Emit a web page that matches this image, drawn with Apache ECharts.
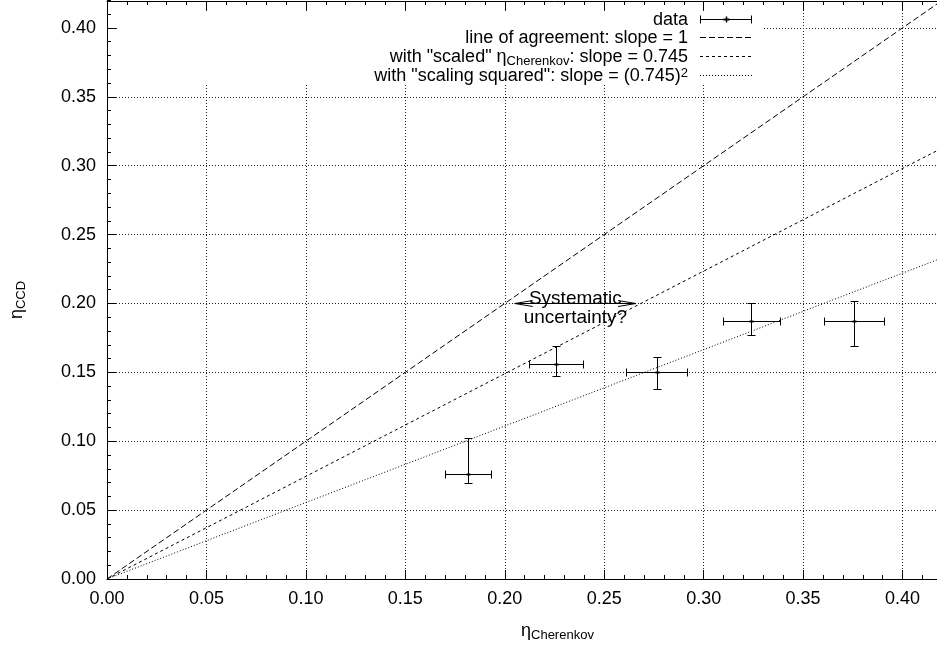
<!DOCTYPE html>
<html>
<head>
<meta charset="utf-8">
<script src="https://cdn.jsdelivr.net/npm/echarts@6/dist/echarts.min.js"></script>
<style>
  html, body { margin: 0; padding: 0; background: #fff; overflow: hidden; width: 937px; height: 645px; }
  /* the plot frame runs past the right and top edges of the page */
  #chart { position: absolute; left: 0; top: -41px; width: 1002px; height: 686px; }
</style>
</head>
<body>
<div id="chart"></div>
<script>
// Measured efficiencies with their error ranges
const etaCherenkov     = [0.1817, 0.2257, 0.2765, 0.3240, 0.3756];
const etaCherenkovLow  = [0.1700, 0.2121, 0.2612, 0.3096, 0.3605];
const etaCherenkovHigh = [0.1933, 0.2393, 0.2916, 0.3386, 0.3905];
const etaCCD     = [0.0759, 0.1560, 0.1499, 0.1873, 0.1870];
const etaCCDLow  = [0.0699, 0.1470, 0.1380, 0.1773, 0.1690];
const etaCCDHigh = [0.1026, 0.1693, 0.1613, 0.2001, 0.2020];

// Reference lines through the origin
const scaling = 0.745;
const lineSlopes = [1, scaling, scaling * scaling];
const lineDashes = [[6, 3], [3, 3], [1, 2]];
const lineEnd = 0.45;

// Double arrow marking the systematic gap: [x from, x to, y]
const arrowSpan = [0.205, 0.266, 0.20];

const FONT = '"Liberation Sans", Arial, Helvetica, sans-serif';
const FS = 18;
const DY = 41; // page offset of the chart container

const chart = echarts.init(document.getElementById('chart'), null, { renderer: 'canvas' });

const crisp = v => Math.round(v) + 0.5;
const stroke = { stroke: '#000', lineWidth: 1 };

function seg(x1, y1, x2, y2, extra) {
  return { type: 'line', shape: { x1, y1, x2, y2 }, style: Object.assign({}, stroke, extra || {}) };
}

function renderErrorBar(params, api) {
  const c = api.coord([api.value(0), api.value(1)]);
  const xl = crisp(api.coord([api.value(2), api.value(1)])[0]);
  const xh = crisp(api.coord([api.value(3), api.value(1)])[0]);
  const yl = crisp(api.coord([api.value(0), api.value(4)])[1]);
  const yh = crisp(api.coord([api.value(0), api.value(5)])[1]);
  const cx = crisp(c[0]), cy = crisp(c[1]);
  const cap = 4;
  return {
    type: 'group',
    children: [
      seg(xl, cy, xh, cy),
      seg(xl, cy - cap, xl, cy + cap),
      seg(xh, cy - cap, xh, cy + cap),
      seg(cx, yl, cx, yh),
      seg(cx - cap, yl, cx + cap, yl),
      seg(cx - cap, yh, cx + cap, yh),
      seg(cx - 2, cy, cx + 2, cy, { lineWidth: 2 })
    ]
  };
}

function renderArrow(params, api) {
  const a = api.coord([api.value(0), api.value(2)]);
  const b = api.coord([api.value(1), api.value(2)]);
  const y = crisp(a[1]);
  const x1 = a[0], x2 = b[0];
  const hl = 18, hw = 3;
  return {
    type: 'group',
    children: [
      seg(x1, y, x2, y),
      { type: 'polyline', shape: { points: [[x1 + hl, y - hw], [x1, y], [x1 + hl, y + hw]] }, style: Object.assign({ fill: null }, stroke) },
      { type: 'polyline', shape: { points: [[x2 - hl, y - hw], [x2, y], [x2 - hl, y + hw]] }, style: Object.assign({ fill: null }, stroke) },
      {
        type: 'text',
        style: {
          text: 'Systematic\nuncertainty?',
          x: (x1 + x2) / 2, y: y + 5,
          align: 'center', verticalAlign: 'middle',
          font: '19px ' + FONT, lineHeight: 19, fill: '#000'
        }
      }
    ]
  };
}

const errorData = etaCherenkov.map((x, i) => [x, etaCCD[i], etaCherenkovLow[i], etaCherenkovHigh[i], etaCCDLow[i], etaCCDHigh[i]]);

const lineSeries = lineSlopes.map((s, i) => ({
  type: 'line',
  data: [[0, 0], [lineEnd, lineEnd * s]],
  showSymbol: false,
  symbol: 'none',
  clip: true,
  silent: true,
  lineStyle: { color: '#000', width: 1, type: lineDashes[i] },
  z: 2
}));

const axisCommon = {
  type: 'value',
  min: 0,
  max: 0.45,
  interval: 0.05,
  axisLine: { show: true, onZero: false, lineStyle: { color: '#000', width: 1 } },
  axisTick: { show: true, inside: true, length: 9, lineStyle: { color: '#000', width: 1 } },
  minorTick: { show: true, splitNumber: 5, length: 4, lineStyle: { color: '#000', width: 1 } },
  minorSplitLine: { show: false }
};

const gridSplit = { show: true, lineStyle: { color: '#222', width: 1, type: [1, 2] } };

// Legend rows: label text and sample style
const legendRows = [
  { text: '{b|data}', sample: 'errorbar' },
  { text: '{b|line of agreement: slope = 1}', sample: lineDashes[0] },
  { text: '{b|with "scaled" η}{sub|Cherenkov}{b|: slope = 0.745}', sample: lineDashes[1] },
  { text: '{b|with "scaling squared": slope = (0.745)}{sup|2}', sample: lineDashes[2] }
];

const legendTextRight = 688;
const sampleX1 = 700, sampleX2 = 752;
const rowY0 = 18.5, rowStep = 18.8;

const graphics = [
  // opaque key box over the grid
  { type: 'rect', z: 1, shape: { x: 118, y: 11 + DY, width: 644, height: 73 }, style: { fill: '#fff' }, silent: true }
];

legendRows.forEach((row, i) => {
  const y = crisp(rowY0 + rowStep * i + DY);
  graphics.push({
    type: 'text', z: 5,
    style: {
      text: row.text,
      x: legendTextRight, y: y + 1,
      align: 'right', verticalAlign: 'middle',
      rich: {
        b: { fontSize: FS, fontFamily: FONT, lineHeight: 20, verticalAlign: 'middle', fill: '#000' },
        sub: { fontSize: 13, fontFamily: FONT, lineHeight: 10, verticalAlign: 'bottom', fill: '#000' },
        sup: { fontSize: 13, fontFamily: FONT, lineHeight: 12, verticalAlign: 'top', fill: '#000' }
      }
    }
  });
  if (row.sample === 'errorbar') {
    const m = crisp((sampleX1 + sampleX2) / 2);
    graphics.push(
      { type: 'line', z: 5, shape: { x1: sampleX1, y1: y, x2: sampleX2, y2: y }, style: stroke },
      { type: 'line', z: 5, shape: { x1: sampleX1 + 0.5, y1: y - 4, x2: sampleX1 + 0.5, y2: y + 4 }, style: stroke },
      { type: 'line', z: 5, shape: { x1: sampleX2 - 0.5, y1: y - 4, x2: sampleX2 - 0.5, y2: y + 4 }, style: stroke },
      { type: 'line', z: 5, shape: { x1: m - 3, y1: y, x2: m + 3, y2: y }, style: { stroke: '#000', lineWidth: 2 } },
      { type: 'line', z: 5, shape: { x1: m, y1: y - 3, x2: m, y2: y + 3 }, style: { stroke: '#000', lineWidth: 1.5 } }
    );
  } else {
    graphics.push({ type: 'line', z: 5, shape: { x1: sampleX1, y1: y, x2: sampleX2, y2: y }, style: { stroke: '#000', lineWidth: 1, lineDash: row.sample } });
  }
});

// Axis titles
graphics.push({
  type: 'text', z: 5,
  style: {
    text: '{e|η}{s|Cherenkov}',
    x: 521, y: 631 + DY, align: 'left', verticalAlign: 'middle',
    rich: {
      e: { fontSize: FS, fontFamily: FONT, lineHeight: 22, verticalAlign: 'middle', fill: '#000' },
      s: { fontSize: 13, fontFamily: FONT, lineHeight: 10, verticalAlign: 'bottom', fill: '#000' }
    }
  }
});
graphics.push({
  type: 'text', z: 5,
  x: 17, y: 300 + DY, rotation: Math.PI / 2,
  style: {
    text: '{e|η}{s|CCD}',
    x: 0, y: 0, align: 'center', verticalAlign: 'middle',
    rich: {
      e: { fontSize: FS, fontFamily: FONT, lineHeight: 22, verticalAlign: 'middle', fill: '#000' },
      s: { fontSize: 13, fontFamily: FONT, lineHeight: 10, verticalAlign: 'bottom', fill: '#000' }
    }
  }
});

const option = {
  animation: false,
  backgroundColor: '#fff',
  grid: { left: 107, right: 0, top: 0, bottom: 66, containLabel: false },
  xAxis: [
    Object.assign({}, axisCommon, {
      position: 'bottom',
      splitLine: gridSplit,
      axisLabel: {
        show: true, margin: 11, color: '#000', fontSize: FS, fontFamily: FONT,
        showMaxLabel: false,
        formatter: v => v.toFixed(2)
      }
    }),
    Object.assign({}, axisCommon, {
      position: 'top',
      offset: -(DY + 1),
      splitLine: { show: false },
      axisLabel: { show: false }
    })
  ],
  yAxis: [
    Object.assign({}, axisCommon, {
      position: 'left',
      splitLine: gridSplit,
      axisLabel: {
        show: true, margin: 11, color: '#000', fontSize: FS, fontFamily: FONT,
        showMaxLabel: false,
        formatter: v => v.toFixed(2)
      }
    })
  ],
  graphic: { elements: graphics },
  series: [
    ...lineSeries,
    {
      type: 'custom',
      name: 'data',
      renderItem: renderErrorBar,
      data: errorData,
      encode: { x: 0, y: 1 },
      clip: false,
      z: 3
    },
    {
      type: 'custom',
      renderItem: renderArrow,
      data: [arrowSpan],
      encode: { x: [0, 1], y: 2 },
      clip: false,
      z: 3
    }
  ]
};

chart.setOption(option);
</script>
</body>
</html>
